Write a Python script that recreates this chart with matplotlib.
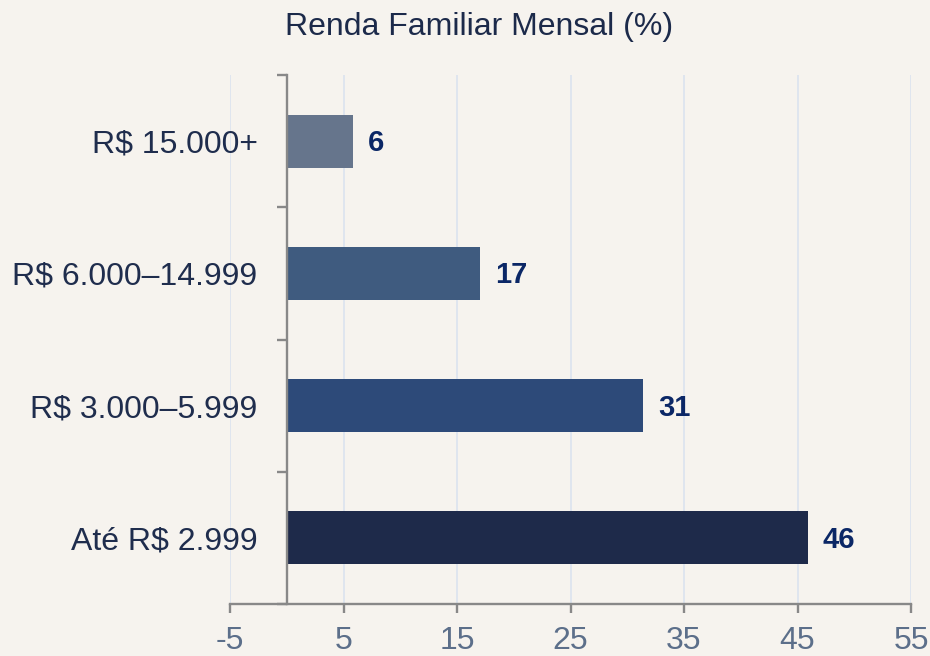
import matplotlib.pyplot as plt
from matplotlib.ticker import FixedLocator

# dados (de baixo para cima)
faixas = ['Até R$ 2.999', 'R$ 3.000–5.999', 'R$ 6.000–14.999', 'R$ 15.000+']
valores = [45.9, 31.4, 17.0, 5.8]
rotulos = ['46', '31', '17', '6']
cores = ['#1E2A4A', '#2D4A79', '#3F5B7F', '#66758C']
xticks = [-5, 5, 15, 25, 35, 45, 55]

fundo = '#F6F3EE'
plt.rcParams['font.family'] = ['Liberation Sans', 'DejaVu Sans']

fig = plt.figure(figsize=(9.3, 6.56), dpi=100, facecolor=fundo)
ax = fig.add_axes([230 / 930, 52 / 656, 681 / 930, 529 / 656])
ax.set_facecolor(fundo)

pos = list(range(len(faixas)))
ax.barh(pos, valores, height=0.4, color=cores, zorder=2)

for p, v, r in zip(pos, valores, rotulos):
    ax.annotate(r, (v, p), xytext=(15, -2), textcoords='offset pixels',
                ha='left', va='center', fontsize=21, fontweight='bold',
                color='#0B2766')

ax.set_xlim(-5, 55)
ax.set_ylim(-0.5, 3.5)
ax.set_xticks(xticks)
ax.set_xticklabels([str(t) for t in xticks])
ax.set_yticks(pos)
ax.set_yticklabels(faixas)
ax.yaxis.set_minor_locator(FixedLocator([-0.5, 0.5, 1.5, 2.5, 3.5]))

ax.grid(axis='x', color='#D9E1EF', linewidth=1.1)
ax.set_axisbelow(True)

for s in ['top', 'right']:
    ax.spines[s].set_visible(False)
ax.spines['left'].set_position(('data', 0))
ax.spines['left'].set_color('#888888')
ax.spines['left'].set_linewidth(1.7)
ax.spines['bottom'].set_color('#888888')
ax.spines['bottom'].set_linewidth(1.7)

ax.tick_params(axis='y', which='major', length=0, pad=21, labelsize=23,
               labelcolor='#1F2D4D')
ax.tick_params(axis='y', which='minor', length=7, width=1.7, color='#888888')
ax.tick_params(axis='x', length=6.5, width=1.7, color='#888888', pad=9,
               labelsize=23, labelcolor='#5C6F8A')

fig.text(479.5 / 930, 621 / 656, 'Renda Familiar Mensal (%)', ha='center',
         va='baseline', fontsize=23, color='#1C2A4A')

fig.savefig('out.png', dpi=100, facecolor=fundo)
